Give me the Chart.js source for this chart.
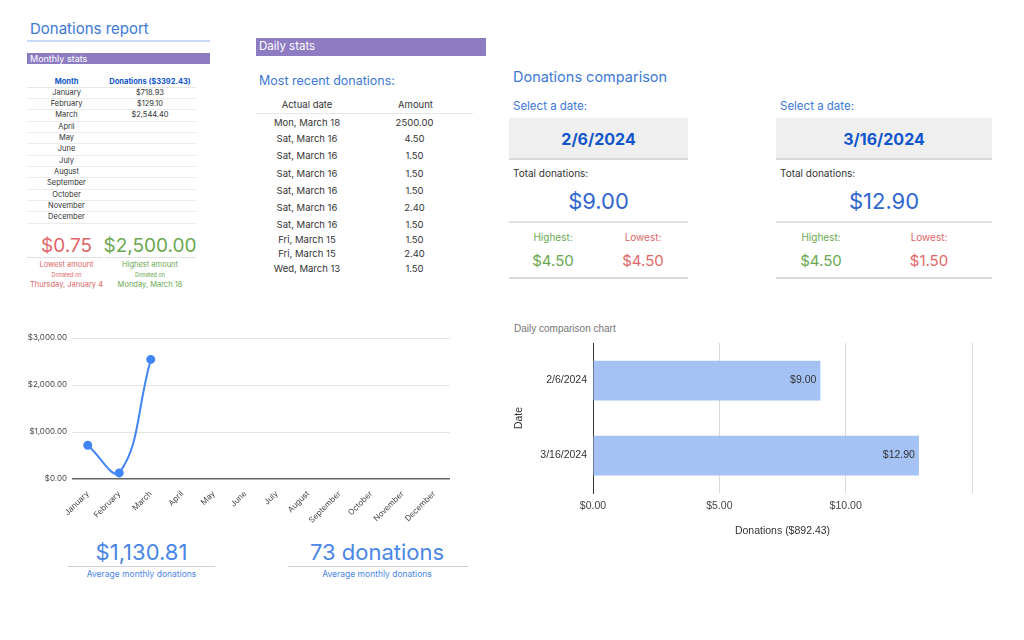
<!DOCTYPE html>
<html>
<head>
<meta charset="utf-8">
<script src="https://cdn.jsdelivr.net/npm/chart.js@4"></script>
<style>
  body { margin: 0; width: 1024px; height: 640px; background: #fff; font-family: Inter, "Noto Sans", sans-serif; position: relative; overflow: hidden; }
  .t { position: absolute; white-space: nowrap; line-height: 1; }
  .r { position: absolute; }
  canvas { position: absolute; }
</style>
</head>
<body>
<div id="page"></div>
<canvas id="lineChart" width="470" height="200" style="left:0px;top:328px;width:470px;height:200px"></canvas>
<canvas id="barChart" width="490" height="230" style="left:500px;top:320px;width:490px;height:230px"></canvas>
<script>
// ---- data ----
const months = ['January', 'February', 'March', 'April', 'May', 'June', 'July', 'August', 'September', 'October', 'November', 'December'];
const monthlyTotals = [718.93, 129.10, 2544.40, null, null, null, null, null, null, null, null, null];
const monthlyTicks = [0, 1000, 2000, 3000];

const recentDates = ['Mon, March 18', 'Sat, March 16', 'Sat, March 16', 'Sat, March 16', 'Sat, March 16', 'Sat, March 16', 'Sat, March 16', 'Fri, March 15', 'Fri, March 15', 'Wed, March 13'];
const recentAmounts = ['2500.00', '4.50', '1.50', '1.50', '1.50', '2.40', '1.50', '1.50', '2.40', '1.50'];

const compareDates = ['2/6/2024', '3/16/2024'];
const compareTotals = [9.00, 12.90];
const compareHighest = [4.50, 4.50];
const compareLowest = [4.50, 1.50];
const compareTicks = [0, 5, 10, 15];

const lowestAmount = 0.75, lowestDate = 'Thursday, January 4';
const highestAmount = 2500, highestDate = 'Monday, March 18';
const donationCount = 73;

// ---- helpers ----
const money = v => '$' + Number(v).toLocaleString('en-US', { minimumFractionDigits: 2, maximumFractionDigits: 2 });
const page = document.getElementById('page');

function txt(x, y, s, size, color, o = {}) {
  const d = document.createElement('div');
  d.className = 't';
  d.textContent = s;
  d.style.left = x + 'px';
  d.style.top = (y - size / 2) + 'px';
  d.style.fontSize = size + 'px';
  d.style.color = color;
  if (o.bold) d.style.fontWeight = '700';
  if (o.font) d.style.fontFamily = o.font;
  if (o.align === 'center') d.style.transform = 'translateX(-50%)';
  if (o.align === 'right') d.style.transform = 'translateX(-100%)';
  page.appendChild(d);
}
function rect(x, y, w, h, color) {
  const d = document.createElement('div');
  d.className = 'r';
  Object.assign(d.style, { left: x + 'px', top: y + 'px', width: w + 'px', height: h + 'px', background: color });
  page.appendChild(d);
}

const BLUE = '#3c78d8', DARK = '#1155cc', RED = '#e06666', GREEN = '#6aa84f', PURPLE = '#8e7cc3';
const C = { align: 'center' };

// ---- left: monthly stats ----
txt(30, 28, 'Donations report', 15, BLUE);
rect(27, 40, 183, 1.5, '#c9daf8');
rect(27, 53, 183, 11, PURPLE);
txt(30, 58.5, 'Monthly stats', 9, '#fff');

const totalAll = monthlyTotals.reduce((a, v) => a + (v || 0), 0);
txt(66.5, 82, 'Month', 7.5, DARK, { align: 'center', bold: true });
txt(150, 82, 'Donations ($' + totalAll.toFixed(2) + ')', 7.5, DARK, { align: 'center', bold: true });
rect(27, 87, 169, 1, '#e6e6e6');
months.forEach((m, i) => {
  const y = 92.5 + i * 11.34;
  txt(66.5, y, m, 7.5, '#333', C);
  if (monthlyTotals[i] != null) txt(150, y, money(monthlyTotals[i]), 7.5, '#333', C);
  rect(27, y + 5.5, 169, 1, '#ececec');
});

txt(66.5, 245.5, money(lowestAmount), 19, RED, C);
txt(150, 245.5, money(highestAmount), 19, GREEN, C);
rect(27, 256.5, 76, 1, '#e0e0e0');
rect(105, 256.5, 91, 1, '#e0e0e0');
txt(66.5, 264.5, 'Lowest amount', 7.5, RED, C);
txt(150, 264.5, 'Highest amount', 7.5, GREEN, C);
txt(66.5, 275.5, 'Donated on', 5.5, RED, C);
txt(150, 275.5, 'Donated on', 5.5, GREEN, C);
txt(66.5, 284.5, lowestDate, 7.5, RED, C);
txt(150, 284.5, highestDate, 7.5, GREEN, C);

// ---- middle: daily stats ----
rect(256, 37.5, 230, 18, PURPLE);
txt(259, 46.5, 'Daily stats', 11.5, '#fff');
txt(259, 81.5, 'Most recent donations:', 12.5, BLUE);
txt(307, 105, 'Actual date', 9.5, '#333', C);
txt(415.5, 105, 'Amount', 9.5, '#333', C);
rect(256, 112.5, 217, 1.5, '#e6e6e6');
const recentRowY = [122.3, 138.3, 155.7, 173.3, 190.7, 208, 224.3, 239.3, 254, 268.7];
recentDates.forEach((d, i) => {
  txt(307, recentRowY[i], d, 9.5, '#333', C);
  txt(414.5, recentRowY[i], recentAmounts[i], 9.5, '#333', C);
});

// ---- right: comparison panels ----
txt(513, 77.5, 'Donations comparison', 14.5, BLUE);
function panel(left, width, hiX, loX, i) {
  const cx = left + width / 2;
  txt(left + 4, 107, 'Select a date:', 11.5, BLUE);
  rect(left, 118, width, 40, '#efefef');
  rect(left, 158, width, 1.5, '#d9d9d9');
  txt(cx, 138.5, compareDates[i], 16, DARK, { align: 'center', bold: true });
  txt(left + 4, 173, 'Total donations:', 10, '#333');
  txt(cx, 201, money(compareTotals[i]), 22, '#2f66d0', C);
  rect(left, 221, width, 1.5, '#e0e0e0');
  txt(hiX, 236.5, 'Highest:', 10, GREEN, C);
  txt(loX, 236.5, 'Lowest:', 10, RED, C);
  txt(hiX, 260, money(compareHighest[i]), 15, GREEN, C);
  txt(loX, 260, money(compareLowest[i]), 15, RED, C);
  rect(left, 277, width, 1.5, '#d9d9d9');
}
panel(509, 179, 553, 643, 0);
panel(776, 216, 821, 929, 1);

// ---- bottom summaries ----
const avgMonthly = totalAll / monthlyTotals.filter(v => v != null).length;
txt(141.5, 551.5, money(avgMonthly), 22, '#4a86e8', C);
rect(68, 565.5, 147, 1, '#d0d0d0');
txt(141.5, 574, 'Average monthly donations', 8.5, '#4a86e8', C);
txt(377, 551.5, donationCount + ' donations', 22, '#4a86e8', C);
rect(288, 565.5, 180, 1, '#d0d0d0');
txt(377, 574, 'Average monthly donations', 8.5, '#4a86e8', C);

txt(514, 329, 'Daily comparison chart', 10, '#757575', { font: '"Liberation Sans", Arial, sans-serif' });

// ---- line chart ----
new Chart(document.getElementById('lineChart'), {
  type: 'line',
  data: {
    labels: months,
    datasets: [{
      data: monthlyTotals,
      borderColor: '#4285f4',
      backgroundColor: '#4285f4',
      borderWidth: 2,
      pointRadius: 3.5,
      tension: 0.45
    }]
  },
  options: {
    responsive: false,
    animation: false,
    layout: { padding: { top: 10, right: 20, left: 0, bottom: 0 } },
    plugins: { legend: { display: false }, tooltip: { enabled: false } },
    scales: {
      x: {
        offset: true,
        grid: { display: false, offset: true },
        border: { display: false },
        ticks: { autoSkip: false, minRotation: 45, maxRotation: 45, padding: 2, color: '#444', font: { family: 'Inter', size: 8 } },
        afterFit(s) { s.height = 49; }
      },
      y: {
        min: 0, max: 3000,
        afterBuildTicks(s) { s.ticks = monthlyTicks.map(v => ({ value: v })); },
        ticks: { padding: 5, color: '#444', font: { family: 'Inter', size: 8 }, callback: v => money(v) },
        grid: {
          drawTicks: false,
          color: c => c.tick.value === 0 ? '#666' : '#e3e3e3',
          lineWidth: c => c.tick.value === 0 ? 1.5 : 1
        },
        border: { display: false },
        afterFit(s) { s.width = 72; }
      }
    }
  }
});

// ---- bar chart ----
const barLabels = {
  id: 'barLabels',
  afterDatasetsDraw(chart) {
    const { ctx } = chart;
    const meta = chart.getDatasetMeta(0);
    ctx.save();
    ctx.font = '10.5px "Liberation Sans", Arial, sans-serif';
    ctx.fillStyle = '#333';
    ctx.textAlign = 'right';
    ctx.textBaseline = 'middle';
    meta.data.forEach((bar, i) => {
      ctx.fillText(money(compareTotals[i]), bar.x - 4, bar.y);
    });
    ctx.restore();
  }
};
const arial = { family: '"Liberation Sans", Arial, sans-serif', size: 10.5 };
new Chart(document.getElementById('barChart'), {
  type: 'bar',
  data: {
    labels: compareDates,
    datasets: [{
      data: compareTotals,
      backgroundColor: '#a4c2f4',
      barPercentage: 0.53,
      categoryPercentage: 1
    }]
  },
  options: {
    indexAxis: 'y',
    responsive: false,
    animation: false,
    layout: { padding: { top: 23, right: 18, left: 0, bottom: 0 } },
    plugins: { legend: { display: false }, tooltip: { enabled: false } },
    scales: {
      x: {
        min: 0, max: 15,
        afterBuildTicks(s) { s.ticks = compareTicks.map(v => ({ value: v })); },
        ticks: { padding: 7, color: '#444', font: arial, callback: v => v < 15 ? money(v) : '' },
        grid: { drawTicks: false, color: c => c.tick.value === 0 ? '#333' : '#d9d9d9' },
        border: { display: false },
        title: { display: true, text: 'Donations ($892.43)', color: '#333', font: arial, padding: { top: 0, bottom: 13 } },
        afterFit(s) { s.height = 57; }
      },
      y: {
        grid: { display: false, drawTicks: false },
        border: { display: true, color: '#333', width: 1 },
        ticks: { padding: 6, color: '#333', font: arial },
        title: { display: true, text: 'Date', color: '#333', font: arial, padding: { top: 13, bottom: 0 } },
        afterFit(s) { s.width = 93; }
      }
    }
  },
  plugins: [barLabels]
});
</script>
</body>
</html>
